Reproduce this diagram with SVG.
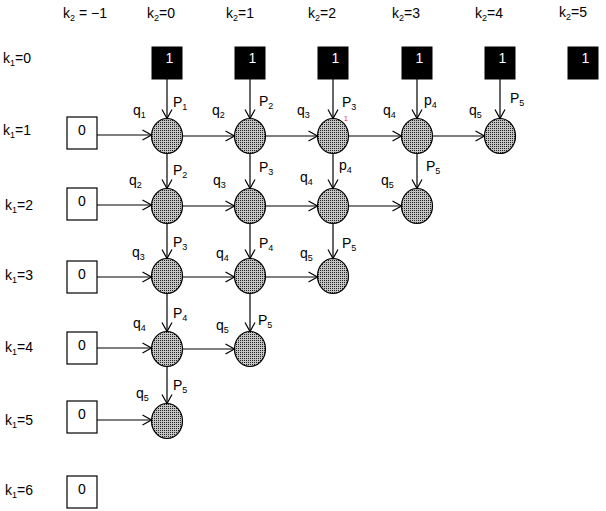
<svg xmlns="http://www.w3.org/2000/svg" width="606" height="511" viewBox="0 0 606 511">
<defs>
<pattern id="dots" width="2" height="2" patternUnits="userSpaceOnUse">
<rect width="2" height="2" fill="#c4c4c4"/>
<rect width="1" height="1" fill="#222"/>
</pattern>
<marker id="arr" markerUnits="userSpaceOnUse" markerWidth="12" markerHeight="12" refX="9" refY="5" orient="auto" overflow="visible">
<path d="M0,0 L9,5 L0,10" fill="none" stroke="#000" stroke-width="1.2"/>
</marker>
</defs>
<style>
text{font-family:"Liberation Sans",Arial,sans-serif;font-size:14px;fill:#000}
.s{font-size:9px}
.one{fill:#fff;font-size:14px;text-anchor:middle}
.zero{font-size:14px;text-anchor:middle}
.blk{fill:#000;stroke:#000}
.box{fill:#fff;stroke:#000;stroke-width:1.2}
.c{fill:url(#dots);stroke:#000;stroke-width:1.2}
.ln{stroke:#000;stroke-width:1.2;fill:none;marker-end:url(#arr)}
.red{fill:#e0202a;font-size:7px}
</style>
<rect width="606" height="511" fill="#fff"/>

<g id="axis-labels">
<text x="63" y="18">k<tspan class="s" dy="3">2</tspan><tspan dy="-3"> = −1</tspan></text>
<text x="147" y="18">k<tspan class="s" dy="3">2</tspan><tspan dy="-3">=0</tspan></text>
<text x="226" y="18">k<tspan class="s" dy="3">2</tspan><tspan dy="-3">=1</tspan></text>
<text x="308" y="18">k<tspan class="s" dy="3">2</tspan><tspan dy="-3">=2</tspan></text>
<text x="392" y="18">k<tspan class="s" dy="3">2</tspan><tspan dy="-3">=3</tspan></text>
<text x="475" y="18">k<tspan class="s" dy="3">2</tspan><tspan dy="-3">=4</tspan></text>
<text x="559" y="17">k<tspan class="s" dy="3">2</tspan><tspan dy="-3">=5</tspan></text>
<text x="3" y="63">k<tspan class="s" dy="3">1</tspan><tspan dy="-3">=0</tspan></text>
<text x="3" y="135">k<tspan class="s" dy="3">1</tspan><tspan dy="-3">=1</tspan></text>
<text x="5" y="210">k<tspan class="s" dy="3">1</tspan><tspan dy="-3">=2</tspan></text>
<text x="5" y="280">k<tspan class="s" dy="3">1</tspan><tspan dy="-3">=3</tspan></text>
<text x="5" y="352">k<tspan class="s" dy="3">1</tspan><tspan dy="-3">=4</tspan></text>
<text x="5" y="425">k<tspan class="s" dy="3">1</tspan><tspan dy="-3">=5</tspan></text>
<text x="5" y="495">k<tspan class="s" dy="3">1</tspan><tspan dy="-3">=6</tspan></text>
</g>

<g id="top-1-k0"><rect class="blk" x="152" y="47" width="30" height="32"/><text class="one" x="169.5" y="63">1</text></g>
<g id="top-1-k1"><rect class="blk" x="235" y="47" width="30" height="32"/><text class="one" x="252.5" y="63">1</text></g>
<g id="top-1-k2"><rect class="blk" x="318" y="47" width="30" height="32"/><text class="one" x="335.5" y="63">1</text></g>
<g id="top-1-k3"><rect class="blk" x="402" y="47" width="30" height="32"/><text class="one" x="419.5" y="63">1</text></g>
<g id="top-1-k4"><rect class="blk" x="485" y="47" width="30" height="32"/><text class="one" x="502.5" y="63">1</text></g>
<g id="top-1-k5"><rect class="blk" x="568" y="47" width="30" height="32"/><text class="one" x="585.5" y="63">1</text></g>

<g id="zero-1"><rect class="box" x="67" y="117" width="30" height="32"/><text class="zero" x="82" y="135">0</text></g>
<g id="zero-2"><rect class="box" x="67" y="188" width="30" height="32"/><text class="zero" x="82" y="206">0</text></g>
<g id="zero-3"><rect class="box" x="67" y="261" width="30" height="32"/><text class="zero" x="82" y="279">0</text></g>
<g id="zero-4"><rect class="box" x="67" y="332" width="30" height="32"/><text class="zero" x="82" y="350">0</text></g>
<g id="zero-5"><rect class="box" x="67" y="401" width="30" height="32"/><text class="zero" x="82" y="419">0</text></g>
<g id="zero-6"><rect class="box" x="67" y="476" width="30" height="32"/><text class="zero" x="82" y="494">0</text></g>

<g id="n-1-0"><ellipse class="c" cx="167" cy="136" rx="15.5" ry="17.5"/></g>
<g id="n-1-1"><ellipse class="c" cx="250" cy="136" rx="15.5" ry="17.5"/></g>
<g id="n-1-2"><ellipse class="c" cx="333" cy="136" rx="15.5" ry="17.5"/></g>
<g id="n-1-3"><ellipse class="c" cx="417" cy="136" rx="15.5" ry="17.5"/></g>
<g id="n-1-4"><ellipse class="c" cx="500" cy="136" rx="15.5" ry="17.5"/></g>
<g id="n-2-0"><ellipse class="c" cx="167" cy="206" rx="15.5" ry="17.5"/></g>
<g id="n-2-1"><ellipse class="c" cx="250" cy="206" rx="15.5" ry="17.5"/></g>
<g id="n-2-2"><ellipse class="c" cx="333" cy="206" rx="15.5" ry="17.5"/></g>
<g id="n-2-3"><ellipse class="c" cx="417" cy="206" rx="15.5" ry="17.5"/></g>
<g id="n-3-0"><ellipse class="c" cx="167" cy="276" rx="15.5" ry="17.5"/></g>
<g id="n-3-1"><ellipse class="c" cx="250" cy="276" rx="15.5" ry="17.5"/></g>
<g id="n-3-2"><ellipse class="c" cx="333" cy="276" rx="15.5" ry="17.5"/></g>
<g id="n-4-0"><ellipse class="c" cx="167" cy="349" rx="15.5" ry="17.5"/></g>
<g id="n-4-1"><ellipse class="c" cx="250" cy="349" rx="15.5" ry="17.5"/></g>
<g id="n-5-0"><ellipse class="c" cx="167" cy="421" rx="15.5" ry="17.5"/></g>

<g id="connectors">
<line class="ln" x1="167" y1="79" x2="167" y2="118.5"/>
<line class="ln" x1="250" y1="79" x2="250" y2="118.5"/>
<line class="ln" x1="333" y1="79" x2="333" y2="118.5"/>
<line class="ln" x1="417" y1="79" x2="417" y2="118.5"/>
<line class="ln" x1="500" y1="79" x2="500" y2="118.5"/>
<line class="ln" x1="97" y1="135" x2="151.5" y2="135"/>
<line class="ln" x1="182.5" y1="136" x2="234.5" y2="136"/>
<line class="ln" x1="265.5" y1="136" x2="317.5" y2="136"/>
<line class="ln" x1="348.5" y1="136" x2="401.5" y2="136"/>
<line class="ln" x1="432.5" y1="136" x2="484.5" y2="136"/>
<line class="ln" x1="167" y1="153.5" x2="167" y2="188.5"/>
<line class="ln" x1="250" y1="153.5" x2="250" y2="188.5"/>
<line class="ln" x1="333" y1="153.5" x2="333" y2="188.5"/>
<line class="ln" x1="417" y1="153.5" x2="417" y2="188.5"/>
<line class="ln" x1="97" y1="205" x2="151.5" y2="205"/>
<line class="ln" x1="182.5" y1="206" x2="234.5" y2="206"/>
<line class="ln" x1="265.5" y1="206" x2="317.5" y2="206"/>
<line class="ln" x1="348.5" y1="206" x2="401.5" y2="206"/>
<line class="ln" x1="167" y1="223.5" x2="167" y2="258.5"/>
<line class="ln" x1="250" y1="223.5" x2="250" y2="258.5"/>
<line class="ln" x1="333" y1="223.5" x2="333" y2="258.5"/>
<line class="ln" x1="97" y1="277" x2="151.5" y2="277"/>
<line class="ln" x1="182.5" y1="277" x2="234.5" y2="277"/>
<line class="ln" x1="265.5" y1="277" x2="317.5" y2="277"/>
<line class="ln" x1="167" y1="293.5" x2="167" y2="331.5"/>
<line class="ln" x1="250" y1="293.5" x2="250" y2="331.5"/>
<line class="ln" x1="97" y1="348" x2="151.5" y2="348"/>
<line class="ln" x1="182.5" y1="349" x2="234.5" y2="349"/>
<line class="ln" x1="167" y1="366.5" x2="167" y2="403.5"/>
<line class="ln" x1="97" y1="420" x2="151.5" y2="420"/>
</g>

<g id="edge-labels">
<text x="173" y="107">P<tspan class="s" dy="3">1</tspan></text>
<text x="133" y="115">q<tspan class="s" dy="3">1</tspan></text>
<text x="259" y="106">P<tspan class="s" dy="3">2</tspan></text>
<text x="212" y="115">q<tspan class="s" dy="3">2</tspan></text>
<text x="342" y="107">P<tspan class="s" dy="3">3</tspan></text>
<text class="red" x="344" y="121">1</text>
<text x="297" y="115">q<tspan class="s" dy="3">3</tspan></text>
<text x="424" y="105">p<tspan class="s" dy="3">4</tspan></text>
<text x="383" y="115">q<tspan class="s" dy="3">4</tspan></text>
<text x="510" y="103">P<tspan class="s" dy="3">5</tspan></text>
<text x="469" y="115">q<tspan class="s" dy="3">5</tspan></text>

<text x="173" y="175">P<tspan class="s" dy="3">2</tspan></text>
<text x="129" y="185">q<tspan class="s" dy="3">2</tspan></text>
<text x="259" y="172">P<tspan class="s" dy="3">3</tspan></text>
<text x="213" y="185">q<tspan class="s" dy="3">3</tspan></text>
<text x="339" y="170">p<tspan class="s" dy="3">4</tspan></text>
<text x="300" y="182">q<tspan class="s" dy="3">4</tspan></text>
<text x="426" y="171">P<tspan class="s" dy="3">5</tspan></text>
<text x="381" y="185">q<tspan class="s" dy="3">5</tspan></text>

<text x="173" y="247">P<tspan class="s" dy="3">3</tspan></text>
<text x="132" y="257">q<tspan class="s" dy="3">3</tspan></text>
<text x="259" y="248">P<tspan class="s" dy="3">4</tspan></text>
<text x="216" y="258">q<tspan class="s" dy="3">4</tspan></text>
<text x="342" y="248">P<tspan class="s" dy="3">5</tspan></text>
<text x="300" y="258">q<tspan class="s" dy="3">5</tspan></text>

<text x="173" y="318">P<tspan class="s" dy="3">4</tspan></text>
<text x="133" y="328">q<tspan class="s" dy="3">4</tspan></text>
<text x="258" y="325">P<tspan class="s" dy="3">5</tspan></text>
<text x="216" y="330">q<tspan class="s" dy="3">5</tspan></text>

<text x="173" y="390">P<tspan class="s" dy="3">5</tspan></text>
<text x="136" y="398">q<tspan class="s" dy="3">5</tspan></text>
</g>
</svg>
